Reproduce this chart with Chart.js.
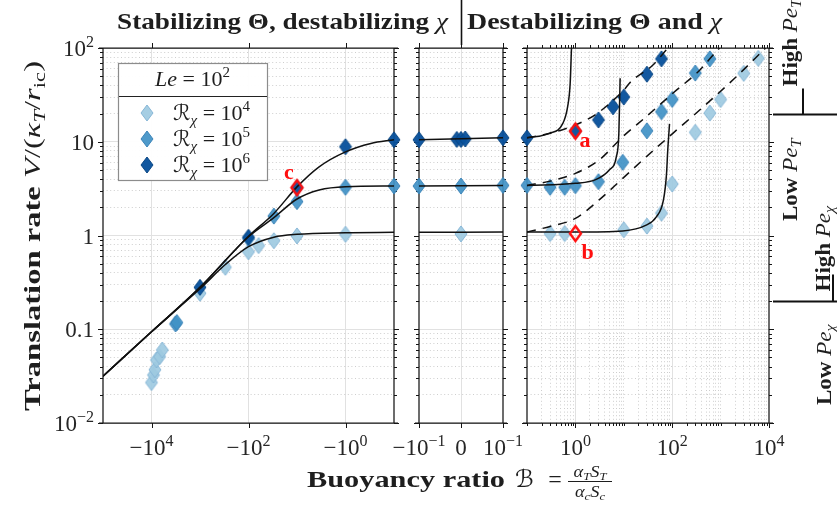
<!DOCTYPE html>
<html><head><meta charset="utf-8">
<script src="https://cdn.jsdelivr.net/npm/chart.js@4.4.1/dist/chart.umd.min.js"></script>
<style>
html,body{margin:0;padding:0;background:#fff;}
#wrap{position:relative;width:837px;height:506px;overflow:hidden;background:#fff;}
#wrap canvas{position:absolute;left:0;top:0;}
</style></head><body>
<div id="wrap"><canvas id="cL" width="837" height="506"></canvas><canvas id="cM" width="837" height="506"></canvas><canvas id="cR" width="837" height="506"></canvas></div>
<script>
// ================= DATA =================
// Series: R_chi = 10^4, 10^5, 10^6  (Le = 10^2)
const SERIES_EXP = ['4', '5', '6'];
const LE_EXP = '2';

// simulation markers: buoyancy ratio B and translation rate V
const B_R4 = [-1e4, -9100, -8500, -7900, -6800, -6000, -1000, -300, -100, -62, -30, -10, -1, 0, 0.3, 0.6, 10, 30, 60, 100, 300, 600, 1000, 3000, 6000];
const V_R4 = [0.027, 0.0325, 0.037, 0.047, 0.051, 0.060, 0.242, 0.458, 0.67, 0.78, 0.88, 0.99, 1.03, 1.04, 1.05, 1.05, 1.15, 1.26, 1.73, 3.54, 12.6, 20.2, 28.2, 53.7, 77.6];
const B_R5 = [-3200, -3000, -100, -30, -10, -1, -0.1, 0, 0.1, 0.3, 0.6, 1, 3, 9.5, 30, 60, 100, 300, 600];
const V_R5 = [0.114, 0.118, 0.93, 1.61, 2.30, 3.27, 3.37, 3.37, 3.42, 3.27, 3.27, 3.40, 3.75, 6.04, 13.1, 20.9, 28.3, 54.1, 76.6];
const B_R6 = [-1000, -100, -10, -1, -0.1, -0.01, 0, 0.01, 0.1, 1, 3, 6, 10, 30, 60];
const V_R6 = [0.28, 0.957, 3.24, 8.85, 10.5, 10.6, 10.6, 10.7, 11.0, 13.0, 17.1, 23.6, 30.0, 52.5, 76.6];

// highlighted cases a, b, c
const HL_B = [1, 1, -10];
const HL_V = [13.0, 1.05, 3.24];
const HL_NAME = ['a', 'b', 'c'];

// solid model curves
const CB_R4 = [-1e5, -1e4, -1e3, -300, -100, -30, -10, -1, -0.1, 0.1, 1, 9.5, 29, 47, 66, 76, 81, 88];
const CV_R4 = [0.0316, 0.094, 0.27, 0.49, 0.76, 0.96, 1.03, 1.07, 1.08, 1.09, 1.09, 1.12, 1.29, 1.58, 2.4, 4.4, 8.2, 15.5];
const CB_R5 = [-1e5, -1e4, -1e3, -100, -30, -10, -3.5, -1, -0.1, 0.1, 1, 2.7, 5, 7, 7.9, 8.4];
const CV_R5 = [0.0316, 0.094, 0.28, 0.97, 1.55, 2.45, 3.06, 3.32, 3.37, 3.42, 3.6, 3.97, 5.0, 6.9, 12.3, 47.5];
const CB_R6 = [-1e5, -1e4, -1e3, -100, -30, -10, -3.5, -1, -0.3, -0.1, 0.1, 0.29, 0.55, 0.69, 0.78, 0.83];
const CV_R6 = [0.0316, 0.094, 0.28, 0.98, 1.72, 3.3, 5.4, 7.8, 9.6, 10.5, 11.0, 12.3, 15.7, 23.6, 42, 100];

// dashed curves (destabilizing side)
const DB_R4 = [0.1, 0.3, 1, 3.1, 9.5, 29, 103, 370, 1950, 8500];
const DV_R4 = [1.09, 1.25, 1.52, 2.4, 4.07, 6.9, 12.3, 21.8, 47.5, 100];
const DB_R5 = [0.1, 0.3, 1, 3.1, 9.5, 29, 103, 370, 700, 950];
const DV_R5 = [3.42, 3.8, 4.6, 6.4, 11.3, 18.5, 32.9, 58, 84, 100];
const DB_R6 = [0.1, 0.3, 1, 2.8, 10, 14, 40, 75, 82];
const DV_R6 = [11.0, 12.3, 15.1, 20, 35.6, 43.7, 65.9, 95, 100];

// Peclet regime boundaries (V values)
const PE_BOUNDS = [20, 0.2];

// tick labels
const Y_TICKS = [0.01, 0.1, 1, 10, 100];
const Y_LABELS = ['10^−2', '0.1', '1', '10', '10^2'];
const XL_TICKS = [-1e4, -1e2, -1];
const XL_LABELS = ['−10^4', '−10^2', '−10^0'];
const XM_TICKS = [-0.1, 0, 0.1];
const XM_LABELS = ['−10^−1', '0', '10^−1'];
const XR_TICKS = [1, 100, 1e4];
const XR_LABELS = ['10^0', '10^2', '10^4'];

// ================= STYLE =================
const W = 837, H = 506, TOP = 48, BOT = 423;
const FONT = '"Liberation Serif","DejaVu Serif","DejaVu Sans",serif';
const F = (style, size) => (style ? style + ' ' : '') + size + 'px ' + FONT;
const FILLS = ['rgba(158,202,225,0.92)', 'rgba(66,146,198,0.93)', 'rgba(8,81,156,0.96)'];
const EDGES = ['#86b6d6', '#3a83b8', '#0a4784'];
const TXT = '#1e1e1e';

function diamondCanvas(fill, stroke, lw, w, h) {
  const c = document.createElement('canvas');
  const pad = Math.ceil(lw) + 1;
  c.width = w + 2 * pad; c.height = h + 2 * pad;
  const g = c.getContext('2d');
  const cx = c.width / 2, cy = c.height / 2;
  g.beginPath();
  g.moveTo(cx, cy - h / 2); g.lineTo(cx + w / 2, cy); g.lineTo(cx, cy + h / 2); g.lineTo(cx - w / 2, cy); g.closePath();
  if (fill) { g.fillStyle = fill; g.fill(); }
  g.lineWidth = lw; g.strokeStyle = stroke; g.lineJoin = 'miter'; g.stroke();
  return c;
}
const MARK = FILLS.map((f, i) => diamondCanvas(f, EDGES[i], 1, 12, 16));
const HL_MARK = diamondCanvas(null, '#ff1010', 2.4, 11, 15);

function drawRich(ctx, segs, x, y, o) {
  o = o || {};
  let w = 0;
  const ws = segs.map(s => { ctx.font = s.f; const v = ctx.measureText(s.t).width; w += v; return v; });
  const sx = o.fit ? o.fit / w : (o.sx || 1);
  const tw = w * sx;
  const x0 = o.align === 'center' ? -tw / 2 : (o.align === 'right' ? -tw : 0);
  ctx.save();
  ctx.translate(x, y);
  if (o.rot) ctx.rotate(o.rot);
  ctx.translate(x0, 0);
  ctx.scale(sx, 1);
  ctx.textAlign = 'left'; ctx.textBaseline = 'alphabetic';
  let cx = 0;
  segs.forEach((s, i) => { ctx.font = s.f; ctx.fillStyle = s.c || o.color || TXT; ctx.fillText(s.t, cx, s.dy || 0); cx += ws[i]; });
  ctx.restore();
  return tw;
}
function labelSegs(lbl, size) {
  const parts = lbl.split('^');
  const s = [{ t: parts[0], f: F('', size) }];
  if (parts[1]) s.push({ t: parts[1], f: F('', Math.round(size * 0.7)), dy: -Math.round(size * 0.4) });
  return s;
}

// ================= SCALES =================
function logTicks(e0, e1, isMajor, extra) {
  const out = [];
  for (let e = e0; e < e1; e++) for (let m = 1; m <= 9; m++) {
    const v = parseFloat((m * Math.pow(10, e)).toPrecision(6));
    out.push(Object.assign({ value: v, major: isMajor(v, m), decade: m === 1 }, extra ? extra(v, m) : {}));
  }
  const vEnd = Math.pow(10, e1);
  out.push(Object.assign({ value: vEnd, major: isMajor(vEnd, 1), decade: true }, extra ? extra(vEnd, 1) : {}));
  return out;
}
const gridColor = c => { const t = c.tick; if (!t || t.grid === false) return 'rgba(0,0,0,0)'; return t.major ? '#e1e1e1' : '#c2c2c2'; };
const gridWidth = c => (c.tick && c.tick.major) ? 1 : 0.8;
const gridDash = c => (c.tick && !c.tick.major) ? [1, 2.6] : [];
const zeroFit = s => { if (s.isHorizontal()) s.height = 0; else s.width = 0; };
const commonAxis = {
  ticks: { display: false, autoSkip: false },
  grid: { display: true, drawTicks: false, color: gridColor, lineWidth: gridWidth },
  border: { display: false, dash: gridDash },
  afterFit: zeroFit
};
function yScale() {
  return Object.assign({}, commonAxis, {
    type: 'logarithmic', min: 0.01, max: 100,
    afterBuildTicks: s => { s.ticks = logTicks(-2, 2, (v, m) => m === 1); }
  });
}

const SERIES = [
  { B: B_R4, V: V_R4, CB: CB_R4, CV: CV_R4, DB: DB_R4, DV: DV_R4 },
  { B: B_R5, V: V_R5, CB: CB_R5, CV: CV_R5, DB: DB_R5, DV: DV_R5 },
  { B: B_R6, V: V_R6, CB: CB_R6, CV: CV_R6, DB: DB_R6, DV: DV_R6 }
];
function pts(Bs, Vs, P) {
  const out = [];
  Bs.forEach((b, i) => { if (P.keep(b)) out.push({ x: P.xmap(b), y: Vs[i] }); });
  return out;
}
function datasetsFor(P) {
  const ds = [];
  SERIES.forEach((s, i) => {
    ds.push({ data: pts(s.CB, s.CV, P), showLine: true, pointRadius: 0, borderColor: '#111', borderWidth: 1.5, cubicInterpolationMode: 'monotone', fill: false, order: 1 });
    if (P.dashed) ds.push({ data: pts(s.DB, s.DV, P), showLine: true, pointRadius: 0, borderColor: '#111', borderWidth: 1.5, borderDash: [9, 7], cubicInterpolationMode: 'monotone', fill: false, order: 1 });
    ds.push({ data: pts(s.B, s.V, P), showLine: false, pointStyle: MARK[i], pointRadius: 7, clip: false, order: 4 - i });
  });
  ds.push({ data: pts(HL_B, HL_V, P), showLine: false, pointStyle: HL_MARK, pointRadius: 7, clip: false, order: 0 });
  return ds;
}

function drawFrame(chart, P) {
  const { ctx, chartArea: a, scales } = chart;
  const xs = scales.x, ys = scales.y;
  ctx.save();
  ctx.strokeStyle = '#151515';
  ctx.lineWidth = 1;
  ctx.beginPath();
  ys.ticks.forEach(t => {
    const y = Math.round(ys.getPixelForValue(t.value)) + 0.5;
    const L = t.major ? 5 : 3;
    ctx.moveTo(a.left - L, y); ctx.lineTo(a.left, y);
    ctx.moveTo(a.right, y); ctx.lineTo(a.right + L, y);
  });
  xs.ticks.forEach(t => {
    if (t.mark === false) return;
    const x = Math.round(xs.getPixelForValue(t.value)) + 0.5;
    const L = t.major ? 5 : 3;
    ctx.moveTo(x, a.top - L); ctx.lineTo(x, a.top);
    ctx.moveTo(x, a.bottom); ctx.lineTo(x, a.bottom + L);
  });
  ctx.stroke();
  ctx.lineWidth = 1.25;
  ctx.beginPath();
  ctx.moveTo(a.left - 4, a.top); ctx.lineTo(a.right + 4, a.top);
  ctx.moveTo(a.left - 4, a.bottom); ctx.lineTo(a.right + 4, a.bottom);
  ctx.moveTo(a.left, a.top); ctx.lineTo(a.left, a.bottom);
  ctx.moveTo(a.right, a.top); ctx.lineTo(a.right, a.bottom);
  ctx.stroke();
  ctx.restore();
}
function drawXLabels(chart, P) {
  const { ctx, scales: { x: xs } } = chart;
  P.tickB.forEach((b, i) => drawRich(ctx, labelSegs(P.tickL[i], 23), xs.getPixelForValue(P.xmap(b)), 455, { align: 'center', color: '#262626' }));
}
function drawHLLabels(chart, P) {
  const { ctx, scales: { x: xs, y: ys } } = chart;
  const off = { a: [4, 16, 'left'], b: [6, 25, 'left'], c: [-8, -9, 'center'] };
  HL_B.forEach((b, i) => {
    if (!P.keep(b)) return;
    const o = off[HL_NAME[i]];
    drawRich(ctx, [{ t: HL_NAME[i], f: F('bold', 22), c: '#ff1010' }], xs.getPixelForValue(P.xmap(b)) + o[0], ys.getPixelForValue(HL_V[i]) + o[1], { align: o[2] });
  });
}

function drawLeftDecor(chart, P) {
  const { ctx, scales: { y: ys } } = chart;
  // y tick labels
  Y_TICKS.forEach((v, i) => drawRich(ctx, labelSegs(Y_LABELS[i], 23), 94, ys.getPixelForValue(v) + 8, { align: 'right', color: '#262626' }));
  // title left
  drawRich(ctx, [{ t: 'Stabilizing Θ, destabilizing ', f: F('bold', 23) }, { t: 'χ', f: F('italic', 23) }], 117, 29, { fit: 331 });
  // y axis title
  drawRich(ctx, [
    { t: 'Translation rate ', f: F('bold', 23) }, { t: 'V', f: F('italic', 23) }, { t: '/(', f: F('', 23) },
    { t: 'κ', f: F('italic', 23) }, { t: 'T', f: F('italic', 16), dy: 5 }, { t: '/', f: F('', 23) },
    { t: 'r', f: F('italic', 23) }, { t: 'ic', f: F('', 16), dy: 5 }, { t: ')', f: F('', 23) }
  ], 40, 236, { align: 'center', rot: -Math.PI / 2, fit: 350 });
  // x axis title
  drawRich(ctx, [{ t: 'Buoyancy ratio', f: F('bold', 23) }], 307, 487, { fit: 198 });
  drawRich(ctx, [{ t: 'ℬ', f: F('italic', 24) }], 515, 487, {});
  drawRich(ctx, [{ t: '=', f: F('', 24) }], 555, 487, { align: 'center' });
  const cx = 590;
  drawRich(ctx, [{ t: 'α', f: F('italic', 16) }, { t: 'T', f: F('italic', 11), dy: 3 }, { t: 'S', f: F('italic', 16) }, { t: 'T', f: F('italic', 11), dy: 3 }], cx, 477, { align: 'center', sx: 1.15 });
  drawRich(ctx, [{ t: 'α', f: F('italic', 16) }, { t: 'c', f: F('italic', 11), dy: 3 }, { t: 'S', f: F('italic', 16) }, { t: 'c', f: F('italic', 11), dy: 3 }], cx, 497, { align: 'center', sx: 1.15 });
  ctx.save(); ctx.strokeStyle = TXT; ctx.lineWidth = 1; ctx.beginPath(); ctx.moveTo(568, 481.5); ctx.lineTo(612, 481.5); ctx.stroke(); ctx.restore();
  // legend
  const L = 118, T = 63, R = 267, Bt = 180;
  ctx.save();
  ctx.fillStyle = 'rgba(255,255,255,0.97)'; ctx.fillRect(L, T, R - L, Bt - T);
  ctx.strokeStyle = '#8c8c8c'; ctx.lineWidth = 1.2; ctx.strokeRect(L + 0.5, T + 0.5, R - L, Bt - T);
  ctx.strokeStyle = '#222'; ctx.lineWidth = 1; ctx.beginPath(); ctx.moveTo(L + 1, 96.5); ctx.lineTo(R, 96.5); ctx.stroke();
  ctx.restore();
  drawRich(ctx, [{ t: 'Le', f: F('italic', 22) }, { t: ' = 10', f: F('', 22) }, { t: LE_EXP, f: F('', 15), dy: -9 }], (L + R) / 2, 86, { align: 'center' });
  const rows = [113, 139, 165];
  SERIES_EXP.forEach((e, i) => {
    const m = MARK[i];
    ctx.drawImage(m, 147 - m.width / 2, rows[i] - m.height / 2);
    drawRich(ctx, [{ t: 'ℛ', f: F('italic', 22) }, { t: 'χ', f: F('italic', 15), dy: 5 }, { t: ' = 10', f: F('', 22) }, { t: e, f: F('', 15), dy: -9 }], 173, rows[i] + 7, {});
  });
  drawXLabels(chart, P);
  drawHLLabels(chart, P);
}
function drawMidDecor(chart, P) {
  const { ctx, scales: { x: xs } } = chart;
  drawXLabels(chart, P);
  const x = Math.round(xs.getPixelForValue(0)) + 0.5;
  ctx.save(); ctx.strokeStyle = '#111'; ctx.lineWidth = 1.6; ctx.beginPath(); ctx.moveTo(x, 0); ctx.lineTo(x, 45); ctx.stroke(); ctx.restore();
}
function drawRightDecor(chart, P) {
  const { ctx, scales: { y: ys } } = chart;
  drawXLabels(chart, P);
  drawHLLabels(chart, P);
  drawRich(ctx, [{ t: 'Destabilizing Θ and ', f: F('bold', 23) }, { t: 'χ', f: F('italic', 23) }], 467, 29, { fit: 255 });
  const y1 = Math.round(ys.getPixelForValue(PE_BOUNDS[0])) + 0.5;
  const y2 = Math.round(ys.getPixelForValue(PE_BOUNDS[1])) + 0.5;
  ctx.save(); ctx.strokeStyle = '#111'; ctx.lineWidth = 2; ctx.beginPath();
  ctx.moveTo(773, y1); ctx.lineTo(837, y1); ctx.moveTo(803, y1 - 26); ctx.lineTo(803, y1);
  ctx.moveTo(773, y2); ctx.lineTo(837, y2); ctx.moveTo(833, y2 - 27); ctx.lineTo(833, y2);
  ctx.stroke(); ctx.restore();
  const rot = -Math.PI / 2, sx = 1.15;
  const lab = (w, sub) => [{ t: w + ' ', f: F('bold', 20) }, { t: 'Pe', f: F('italic', 20) }, { t: sub, f: F('italic', 14), dy: 4 }];
  drawRich(ctx, lab('High', 'T'), 797, y1 - 28, { rot, sx });
  drawRich(ctx, lab('Low', 'T'), 797, 221, { rot, sx });
  drawRich(ctx, lab('High', 'χ'), 830, y2 - 10, { rot, sx });
  drawRich(ctx, lab('Low', 'χ'), 831, 405, { rot, sx });
}

// ================= PANELS =================
const PANELS = [
  {
    id: 'cL', l: 103, r: 394, keep: b => b <= -0.1, xmap: b => -b, dashed: false, tickB: XL_TICKS, tickL: XL_LABELS,
    x: Object.assign({}, commonAxis, { type: 'logarithmic', min: 0.1, max: 1e5, reverse: true,
      afterBuildTicks: s => { s.ticks = XL_TICKS.map(b => ({ value: -b, major: true })); } }),
    decor: drawLeftDecor
  },
  {
    id: 'cM', l: 419, r: 503, keep: b => b >= -0.1 && b <= 0.1, xmap: b => b, dashed: false, tickB: XM_TICKS, tickL: XM_LABELS,
    x: Object.assign({}, commonAxis, { type: 'linear', min: -0.1, max: 0.1,
      afterBuildTicks: s => { s.ticks = XM_TICKS.map(b => ({ value: b, major: true, grid: b === 0 })); } }),
    decor: drawMidDecor
  },
  {
    id: 'cR', l: 527, r: 769, keep: b => b >= 0.1, xmap: b => b, dashed: true, tickB: XR_TICKS, tickL: XR_LABELS,
    x: Object.assign({}, commonAxis, { type: 'logarithmic', min: 0.1, max: 1e4,
      afterBuildTicks: s => { s.ticks = logTicks(-1, 4, v => XR_TICKS.includes(v), v => ({ grid: v !== 0.1 && v !== 1e4 })); } }),
    decor: drawRightDecor
  }
];

PANELS.forEach(P => {
  new Chart(document.getElementById(P.id), {
    type: 'scatter',
    data: { datasets: datasetsFor(P) },
    options: {
      responsive: false, animation: false, events: [], devicePixelRatio: 1,
      layout: { padding: { left: P.l, right: W - P.r, top: TOP, bottom: H - BOT } },
      plugins: { legend: { display: false }, tooltip: { enabled: false } },
      scales: { x: P.x, y: yScale() }
    },
    plugins: [{
      id: 'deco' + P.id,
      beforeDatasetsDraw: c => drawFrame(c, P),
      afterDraw: c => P.decor(c, P)
    }]
  });
});
</script>
</body></html>
